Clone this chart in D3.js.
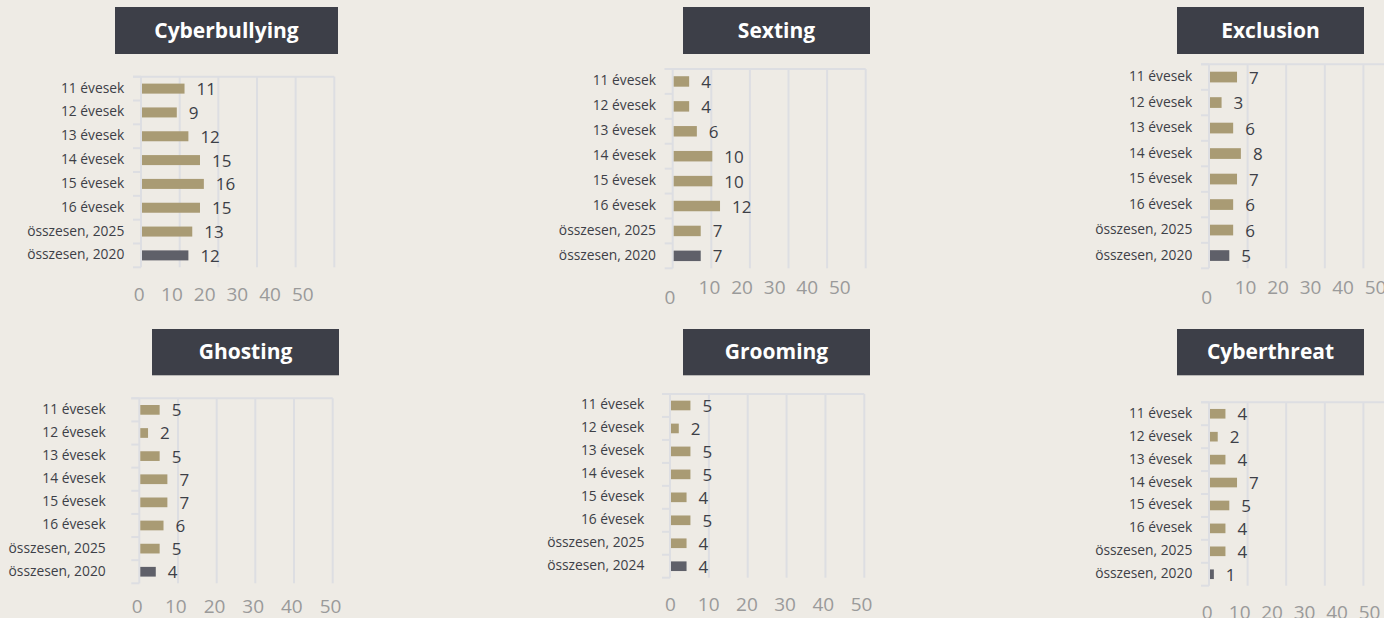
<!DOCTYPE html>
<html>
<head>
<meta charset="utf-8">
<script src="https://cdn.jsdelivr.net/npm/d3@7"></script>
<style>
  html, body { margin: 0; padding: 0; background: #eeebe5; }
  svg { display: block; }
  text { font-family: "Open Sans", "Noto Sans", sans-serif; }
</style>
</head>
<body>
<svg id="chart" width="1384" height="618"></svg>
<script>
// ---- data ----
const categories = ["11 évesek", "12 évesek", "13 évesek", "14 évesek", "15 évesek", "16 évesek", "összesen, 2025", "összesen, 2020"];
const categoriesGrooming = ["11 évesek", "12 évesek", "13 évesek", "14 évesek", "15 évesek", "16 évesek", "összesen, 2025", "összesen, 2024"];
const titles = ["Cyberbullying", "Sexting", "Exclusion", "Ghosting", "Grooming", "Cyberthreat"];
const cyberbullying = [11, 9, 12, 15, 16, 15, 13, 12];
const sexting = [4, 4, 6, 10, 10, 12, 7, 7];
const exclusion = [7, 3, 6, 8, 7, 6, 6, 5];
const ghosting = [5, 2, 5, 7, 7, 6, 5, 4];
const grooming = [5, 2, 5, 5, 4, 5, 4, 4];
const cyberthreat = [4, 2, 4, 7, 5, 4, 4, 1];
const xTicks = [0, 10, 20, 30, 40, 50];

// ---- layout (positions only) ----
const layout = [
  { title: [115, 7, 338, 54], x: [141, 334.3], y: [76.7, 267.3], labelRight: 124.3,
    tick: [138.7, 302.3], tickY: 294, zero: null },
  { title: [683, 7, 870, 54], x: [672.7, 865.7], y: [69, 268.3], labelRight: 656,
    tick: [676.4, 839.3], tickY: 286.5, zero: [670, 297] },
  { title: [1177, 7, 1364, 54], x: [1209, 1402], y: [64.3, 268.3], labelRight: 1192.3,
    tick: [1212.5, 1375], tickY: 286.7, zero: [1206.7, 296.5] },
  { title: [152, 329, 339, 375.3], x: [139.3, 332.7], y: [398.3, 583.3], labelRight: 105.7,
    tick: [136.7, 330], tickY: 606, zero: null },
  { title: [683, 329, 870, 375.3], x: [670, 864.3], y: [394, 577.7], labelRight: 644.3,
    tick: [670, 861], tickY: 603.5, zero: null },
  { title: [1177, 329, 1364, 375.3], x: [1209, 1402], y: [402.3, 585.7], labelRight: 1192.3,
    tick: [1206.7, 1369], tickY: 611.7, zero: null }
];

const seriesList = [cyberbullying, sexting, exclusion, ghosting, grooming, cyberthreat];
const catList = [categories, categories, categories, categories, categoriesGrooming, categories];

const colBar = "#a99b74", colBarDark = "#5f6069", colGrid = "#dddee2";
const colTitle = "#3d3f48", colText = "#3d3f47", colTick = "#9a9a9a";

const svg = d3.select("#chart");
svg.append("rect").attr("width", 1384).attr("height", 618).attr("fill", "#eeebe5");

seriesList.forEach((values, i) => {
  const L = layout[i];
  const cats = catList[i];
  const g = svg.append("g");

  const x = d3.scaleLinear().domain([0, 50]).range(L.x);
  const y = d3.scaleBand().domain(cats).range(L.y).paddingInner(0.58).paddingOuter(0.29);
  const step = (L.y[1] - L.y[0]) / cats.length;

  // title box
  g.append("rect")
    .attr("x", L.title[0]).attr("y", L.title[1])
    .attr("width", L.title[2] - L.title[0]).attr("height", L.title[3] - L.title[1])
    .attr("fill", colTitle);
  g.append("text")
    .attr("x", (L.title[0] + L.title[2]) / 2)
    .attr("y", (L.title[1] + L.title[3]) / 2 - 1)
    .attr("text-anchor", "middle").attr("dominant-baseline", "central")
    .attr("fill", "#ffffff").attr("font-weight", 700).attr("font-size", 21)
    .text(titles[i]);

  // vertical gridlines
  g.append("g").selectAll("line").data(xTicks).join("line")
    .attr("x1", d => x(d)).attr("x2", d => x(d))
    .attr("y1", L.y[0]).attr("y2", L.y[1])
    .attr("stroke", colGrid).attr("stroke-width", 2);
  // top line
  g.append("line")
    .attr("x1", x(0) - 8).attr("x2", x(50))
    .attr("y1", L.y[0]).attr("y2", L.y[0])
    .attr("stroke", colGrid).attr("stroke-width", 2);
  // category boundary ticks
  const bounds = d3.range(cats.length + 1).map(k => L.y[0] + k * step);
  g.append("g").selectAll("line").data(bounds).join("line")
    .attr("x1", x(0) - 8).attr("x2", x(0))
    .attr("y1", d => d).attr("y2", d => d)
    .attr("stroke", colGrid).attr("stroke-width", 2);

  // bars
  g.append("g").selectAll("rect").data(values).join("rect")
    .attr("x", x(0) + 1)
    .attr("y", (d, k) => y(cats[k]))
    .attr("width", d => x(d) - x(0))
    .attr("height", y.bandwidth())
    .attr("fill", (d, k) => k === cats.length - 1 ? colBarDark : colBar);

  // value labels
  g.append("g").selectAll("text").data(values).join("text")
    .attr("x", d => x(d) + 13)
    .attr("y", (d, k) => y(cats[k]) + y.bandwidth() / 2)
    .attr("dominant-baseline", "central")
    .attr("font-size", 17).attr("fill", colText)
    .text(d => d3.format("d")(d));

  // category labels
  g.append("g").selectAll("text").data(cats).join("text")
    .attr("x", L.labelRight)
    .attr("y", d => y(d) + y.bandwidth() / 2 - 1.5)
    .attr("text-anchor", "end").attr("dominant-baseline", "central")
    .attr("font-size", 13.8).attr("fill", colText)
    .text(d => d);

  // x tick labels (offset from gridlines as in the original)
  const tickScale = d3.scaleLinear().domain([0, 50]).range(L.tick);
  const ax = g.append("g").attr("transform", `translate(0,${L.tickY})`)
    .call(d3.axisBottom(tickScale).tickValues(xTicks).tickSize(0).tickPadding(0).tickFormat(d3.format("d")));
  ax.select(".domain").remove();
  ax.selectAll("text")
    .attr("y", 0).attr("dy", null)
    .attr("dominant-baseline", "central")
    .attr("font-size", 19).attr("fill", colTick)
    .attr("font-family", "'Open Sans', 'Noto Sans', sans-serif");
  if (L.zero) {
    ax.selectAll(".tick").filter(d => d === 0)
      .attr("transform", `translate(${L.zero[0]},${L.zero[1] - L.tickY})`);
  }
});
</script>
</body>
</html>
